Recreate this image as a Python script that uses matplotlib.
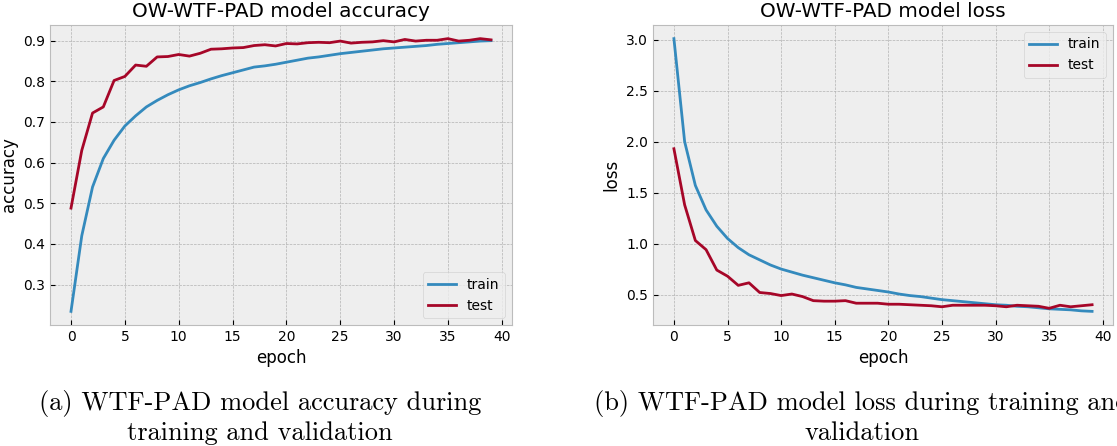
import matplotlib
matplotlib.use("Agg")
import matplotlib.pyplot as plt

epochs = list(range(40))

acc_train = [0.234, 0.42, 0.54, 0.61, 0.655, 0.69, 0.715, 0.737, 0.753, 0.767,
             0.779, 0.789, 0.797, 0.806, 0.814, 0.821, 0.828, 0.835, 0.838, 0.842,
             0.847, 0.852, 0.857, 0.860, 0.864, 0.868, 0.871, 0.874, 0.877, 0.880,
             0.882, 0.884, 0.886, 0.888, 0.891, 0.893, 0.895, 0.897, 0.899, 0.900]
acc_test = [0.488, 0.63, 0.722, 0.737, 0.802, 0.812, 0.840, 0.837, 0.860, 0.861,
            0.866, 0.862, 0.869, 0.879, 0.880, 0.882, 0.883, 0.888, 0.890, 0.887,
            0.893, 0.892, 0.895, 0.896, 0.895, 0.899, 0.894, 0.896, 0.897, 0.900,
            0.897, 0.903, 0.899, 0.901, 0.901, 0.905, 0.899, 0.901, 0.905, 0.902]

loss_train = [3.01, 2.0, 1.57, 1.33, 1.17, 1.05, 0.96, 0.89, 0.84, 0.79,
              0.75, 0.72, 0.69, 0.665, 0.64, 0.615, 0.595, 0.57, 0.555, 0.54,
              0.525, 0.505, 0.49, 0.48, 0.465, 0.45, 0.44, 0.43, 0.42, 0.41,
              0.40, 0.395, 0.385, 0.38, 0.37, 0.36, 0.355, 0.35, 0.34, 0.335]
loss_test = [1.93, 1.38, 1.03, 0.94, 0.74, 0.68, 0.59, 0.615, 0.52, 0.51,
             0.49, 0.505, 0.48, 0.44, 0.435, 0.435, 0.44, 0.415, 0.415, 0.415,
             0.405, 0.405, 0.40, 0.395, 0.39, 0.38, 0.395, 0.395, 0.395, 0.395,
             0.39, 0.38, 0.395, 0.39, 0.385, 0.365, 0.395, 0.38, 0.39, 0.40]

caption_a = ["(a) WTF-PAD model accuracy during", "training and validation"]
caption_b = ["(b) WTF-PAD model loss during training and", "validation"]

plt.style.use("bmh")
fig = plt.figure(figsize=(11.17, 4.46), dpi=100)

ax1 = fig.add_axes([50 / 1117, 121 / 446, 462 / 1117, 300 / 446])
ax1.plot(epochs, acc_train, label="train")
ax1.plot(epochs, acc_test, label="test")
ax1.set_title("OW-WTF-PAD model accuracy")
ax1.set_xlabel("epoch")
ax1.set_ylabel("accuracy")
ax1.legend(loc="lower right")

ax2 = fig.add_axes([653 / 1117, 121 / 446, 460 / 1117, 300 / 446])
ax2.plot(epochs, loss_train, label="train")
ax2.plot(epochs, loss_test, label="test")
ax2.set_title("OW-WTF-PAD model loss")
ax2.set_xlabel("epoch")
ax2.set_ylabel("loss")
ax2.legend(loc="upper right")

for ax in (ax1, ax2):
    ax.set_xticks(range(0, 41, 5))

# subfigure captions, LaTeX-like serif
for cx, lines in [(260, caption_a), (862, caption_b)]:
    for base_y, line in zip([410, 440], lines):
        fig.text(cx / 1117, 1 - base_y / 446, line, ha="center", va="baseline",
                 family="cmr10", fontsize=19)

fig.savefig("out.png", dpi=100)
